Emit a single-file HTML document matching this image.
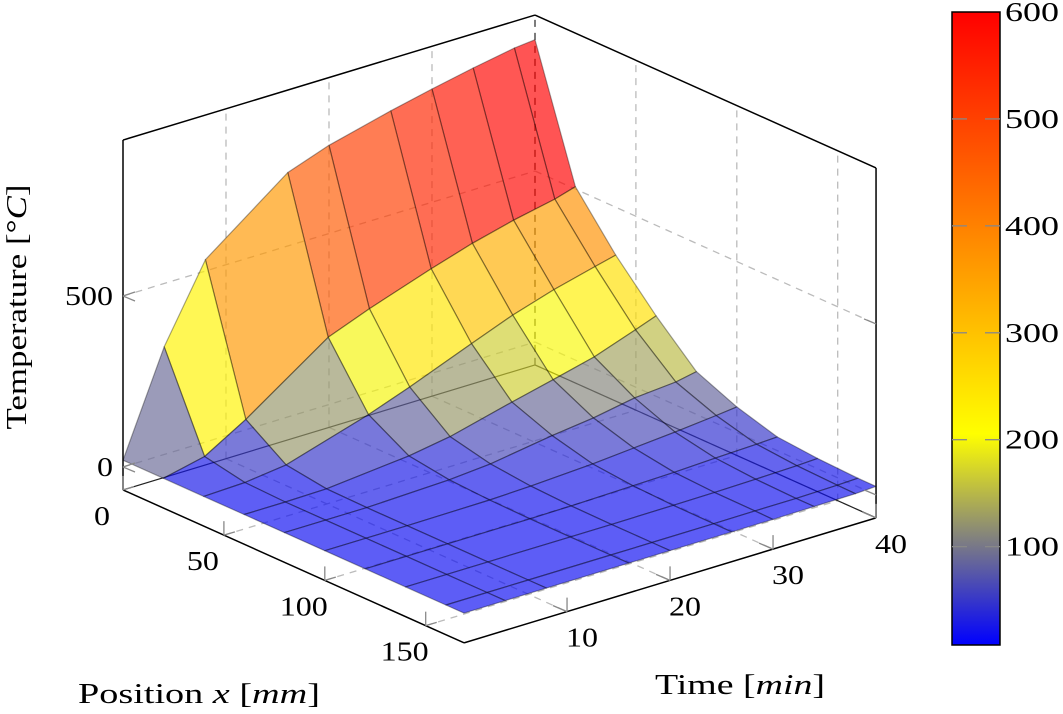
<!DOCTYPE html>
<html><head><meta charset="utf-8"><style>
html,body{margin:0;padding:0;background:#fff;}
svg{display:block;font-family:"Liberation Serif","DejaVu Serif",serif;}
</style></head><body>
<svg id="chart" width="1063" height="714" viewBox="0 0 1063 714" xmlns="http://www.w3.org/2000/svg">
<g id="grid"></g>
<g id="back"></g>
<g id="surf"></g>
<g id="box"></g>
<g id="labels"></g>
<text transform="translate(26,307) rotate(-90)" text-anchor="middle" font-size="28" textLength="245" lengthAdjust="spacingAndGlyphs">Temperature [°<tspan font-style="italic">C</tspan>]</text>
<text x="78" y="703" font-size="28" textLength="242" lengthAdjust="spacingAndGlyphs">Position <tspan font-style="italic">x</tspan> [<tspan font-style="italic">mm</tspan>]</text>
<text x="655" y="694" font-size="28" textLength="170" lengthAdjust="spacingAndGlyphs">Time [<tspan font-style="italic">min</tspan>]</text>
<defs><linearGradient id="cbg" x1="0" y1="1" x2="0" y2="0">
<stop offset="0" stop-color="rgb(0,0,255)"/><stop offset="0.1667" stop-color="rgb(128,128,128)"/><stop offset="0.3333" stop-color="rgb(255,255,0)"/><stop offset="1" stop-color="rgb(255,0,0)"/></linearGradient></defs>
<g id="cbar"></g>
</svg>
<script>
const positions = [0,20,40,60,80,100,120,140,160,169];
const times = [0,4,8,16,20,26,30,34,38,40];
const temp_t0  = [20,20,20,20,20,20,20,20,20,20];
const temp_t4  = [315,47,24,20,20,20,20,20,20,20];
const temp_t8  = [533,119,39,22,20,20,20,20,20,20];
const temp_t16 = [715,286,113,45,28,22,20,20,20,20];
const temp_t20 = [758,333,157,65,38,26,21,20,20,20];
const temp_t26 = [804,395,229,111,66,36,25,21,20,20];
const temp_t30 = [831,433,276,140,81,46,28,22,21,20];
const temp_t34 = [856,464,314,170,103,56,33,24,21,21];
const temp_t38 = [878,489,345,213,113,68,37,27,23,22];
const temp_t40 = [884,507,360,235,125,75,40,30,25,25];
const temps = [temp_t0,temp_t4,temp_t8,temp_t16,temp_t20,temp_t26,temp_t30,temp_t34,temp_t38,temp_t40];
const zTicks = [0,500];
const xTicks = [0,50,100,150];
const tTicks = [10,20,30,40];
const cbTicks = [100,200,300,400,500,600];

const NS="http://www.w3.org/2000/svg";
const X0=123,Y0=467,XMAX=169,TMAX=40,ZMIN=-67,ZMAX=956;
function P(x,t,z){return [X0+2.018*x+10.3*t, Y0+0.905*x-3.125*t-0.342*z];}
function mk(tag,parent,attrs){const e=document.createElementNS(NS,tag);for(const k in attrs)e.setAttribute(k,attrs[k]);parent.appendChild(e);return e;}
function pts(a){return a.map(p=>p[0].toFixed(1)+","+p[1].toFixed(1)).join(" ");}
const CMIN=8,CMAX=600,SURF_CMAX=680;
function cmap(v,hi){let f=Math.max(0,Math.min(1,(v-CMIN)/(hi-CMIN)));
 const st=[[0,[0,0,255]],[1/6,[128,128,128]],[2/6,[255,255,0]],[1,[255,0,0]]];
 for(let i=0;i<st.length-1;i++){if(f<=st[i+1][0]){const u=(f-st[i][0])/(st[i+1][0]-st[i][0]);const a=st[i][1],b=st[i+1][1];return `rgb(${Math.round(a[0]+(b[0]-a[0])*u)},${Math.round(a[1]+(b[1]-a[1])*u)},${Math.round(a[2]+(b[2]-a[2])*u)})`;}}
 return "rgb(255,0,0)";}

const grid=document.getElementById('grid');
const gl={stroke:"#bbb","stroke-width":1.3,"stroke-dasharray":"7,6",fill:"none"};
function line(parent,a,b,st,name){const l=mk('line',parent,Object.assign({x1:a[0],y1:a[1],x2:b[0],y2:b[1]},st));
 
 return l;}
zTicks.forEach(z=>{line(grid,P(0,0,z),P(0,TMAX,z),gl,'z-grid-line');line(grid,P(0,TMAX,z),P(XMAX,TMAX,z),gl,'z-grid-line');});
tTicks.forEach(t=>{line(grid,P(0,t,ZMIN),P(0,t,ZMAX),gl,'time-grid-line');line(grid,P(0,t,ZMIN),P(XMAX,t,ZMIN),gl,'time-grid-line');});
xTicks.forEach(x=>{if(x===0)return;line(grid,P(x,TMAX,ZMIN),P(x,TMAX,ZMAX),gl,'position-grid-line');line(grid,P(x,0,ZMIN),P(x,TMAX,ZMIN),gl,'position-grid-line');});

const back=document.getElementById('back');
line(back,P(0,0,ZMIN),P(0,TMAX,ZMIN),{stroke:"#222","stroke-width":1.2},'back-floor-edge');
line(back,P(0,TMAX,ZMIN),P(XMAX,TMAX,ZMIN),{stroke:"#222","stroke-width":1.2},'back-floor-edge');
line(back,P(0,TMAX,ZMIN),P(0,TMAX,ZMAX),{stroke:"#333","stroke-width":1.2,"stroke-dasharray":"7,6"},'back-vertical-edge');

const surf=document.getElementById('surf');
const cells=[];
for(let i=0;i<times.length-1;i++)for(let j=0;j<positions.length-1;j++){
 const xc=(positions[j]+positions[j+1])/2,tc=(times[i]+times[i+1])/2;
 cells.push({i,j,key:xc/XMAX+(TMAX-tc)/TMAX});}
cells.sort((a,b)=>a.key-b.key);
cells.forEach(c=>{const i=c.i,j=c.j;
 const v=[[j,i],[j+1,i],[j+1,i+1],[j,i+1]];
 const p=v.map(q=>P(positions[q[0]],times[q[1]],temps[q[1]][q[0]]));
 const mean=v.reduce((s,q)=>s+temps[q[1]][q[0]],0)/4;
 const poly=mk('polygon',surf,{points:pts(p),fill:cmap(mean,SURF_CMAX),"fill-opacity":0.67,stroke:"rgba(0,0,0,0.35)","stroke-width":1.2,"stroke-linejoin":"round"});
 
 
});

const box=document.getElementById('box');
const bs={stroke:"#000","stroke-width":1.5};
line(box,P(0,0,ZMIN),P(0,0,ZMAX),bs,'box-edge');
line(box,P(0,0,ZMIN),P(XMAX,0,ZMIN),bs,'position-axis-line');
line(box,P(XMAX,0,ZMIN),P(XMAX,TMAX,ZMIN),bs,'time-axis-line');
line(box,P(XMAX,TMAX,ZMIN),P(XMAX,TMAX,ZMAX),bs,'box-edge');
line(box,P(0,0,ZMAX),P(0,TMAX,ZMAX),bs,'box-edge');
line(box,P(0,TMAX,ZMAX),P(XMAX,TMAX,ZMAX),bs,'box-edge');
const ts={stroke:"#888","stroke-width":1.3};
zTicks.forEach(z=>{const a=P(0,0,z);line(box,a,[a[0]+12,a[1]-4],ts,'z-tick');line(box,a,[a[0]+12,a[1]+5],ts,'z-tick');const b=P(XMAX,TMAX,z);line(box,b,[b[0]-12,b[1]-5],ts,'z-tick');});
xTicks.forEach(x=>{const a=P(x,0,ZMIN);line(box,a,[a[0],a[1]-14],ts,'position-tick');line(box,a,[a[0]+11,a[1]-3.3],ts,'position-tick');});
tTicks.forEach(t=>{const a=P(XMAX,t,ZMIN);line(box,a,[a[0],a[1]-14],ts,'time-tick');line(box,a,[a[0]-14,a[1]-6],ts,'time-tick');});

const lab=document.getElementById('labels');
function txt(parent,x,y,s,anchor,name){const e=mk('text',parent,{x:x,y:y,"font-size":27,"text-anchor":anchor,textLength:s.length*16,lengthAdjust:"spacingAndGlyphs"});e.textContent=s;
 
 return e;}
zTicks.forEach(z=>{const a=P(0,0,z);txt(lab,a[0]-10,a[1]+9,String(z),"end",'z-tick-label');});
xTicks.forEach(x=>{const a=P(x,0,ZMIN);txt(lab,a[0]-21,a[1]+35,String(x),"middle",'position-tick-label');});
tTicks.forEach(t=>{const a=P(XMAX,t,ZMIN);txt(lab,a[0]+15,a[1]+35,String(t),"middle",'time-tick-label');});

const cb=document.getElementById('cbar');
const CBX=952,CBW=48,CBT=12,CBB=645;
function cbY(v){return CBB-(v-CMIN)/(CMAX-CMIN)*(CBB-CBT);}
const r=mk('rect',cb,{x:CBX,y:CBT,width:CBW,height:CBB-CBT,fill:"url(#cbg)",stroke:"#000","stroke-width":1.5});


cbTicks.forEach(v=>{const y=cbY(v);
 if(v<CMAX){line(cb,[CBX,y],[CBX+15,y],{stroke:"#888","stroke-width":1.3},'colorbar-tick');line(cb,[CBX+CBW-15,y],[CBX+CBW,y],{stroke:"#888","stroke-width":1.3},'colorbar-tick');}
 const e=txt(cb,1005,y+9,String(v),"start",'colorbar-tick-label');e.setAttribute('textLength',54);});
</script>
</body></html>
